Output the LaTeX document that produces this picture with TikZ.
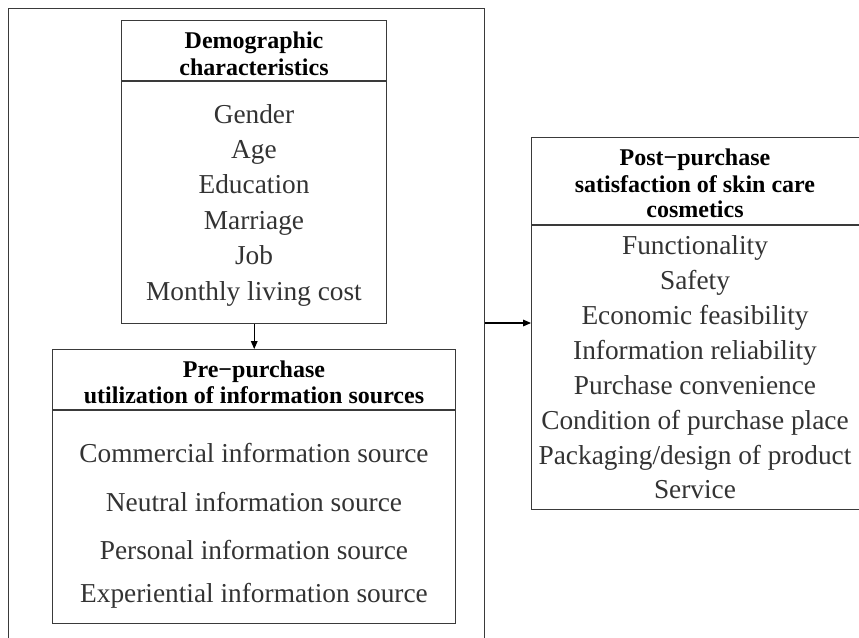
\documentclass[tikz,border=0pt]{standalone}
\usepackage{fontspec}
\setmainfont{Liberation Serif}
\usetikzlibrary{arrows.meta}
\definecolor{ink}{HTML}{3A3A3A}
\definecolor{txt}{HTML}{333333}
\begin{document}
\begin{tikzpicture}[x=0.75pt,y=-0.75pt,
  frame/.style={draw=ink,line width=1.1pt,inner sep=0pt,anchor=north west},
  outerframe/.style={draw=ink,line width=0.9pt,inner sep=0pt,anchor=north west},
  divider/.style={draw=ink,line width=1.1pt},
  head/.style={anchor=base,inner sep=0pt,font=\fontsize{18}{20}\selectfont\bfseries,text=black},
  item/.style={anchor=base,inner sep=0pt,font=\fontsize{20.5}{22}\selectfont,text=txt},
  link/.style={draw=black,line width=0.8pt,-{Triangle[length=6pt,width=5pt]}}]
\clip (0,0) rectangle (859,637);
\fill[white] (0,0) rectangle (859,637);

% enclosing frame around the two left-hand blocks
\node[outerframe,minimum width=475.5*0.75pt,minimum height=660*0.75pt] (outer) at (8,8) {};

% demographic characteristics
\node[frame,minimum width=265*0.75pt,minimum height=303*0.75pt] (demo) at (121,20) {};
\draw[divider] (121,81) -- (386,81);
\node[head] (demoH1) at (254,48) {Demographic};
\node[head] (demoH2) at (254,75) {characteristics};
\node[item] (d1) at (254,123) {Gender};
\node[item] (d2) at (254,158) {Age};
\node[item] (d3) at (254,193.5) {Education};
\node[item] (d4) at (254,229) {Marriage};
\node[item] (d5) at (254,264.5) {Job};
\node[item] (d6) at (254,300) {Monthly living cost};

% pre-purchase information sources
\node[frame,minimum width=403*0.75pt,minimum height=274*0.75pt] (pre) at (52,349) {};
\draw[divider] (52,410) -- (455,410);
\node[head] (preH1) at (254,377) {Pre−purchase};
\node[head] (preH2) at (254,403) {utilization of information sources};
\node[item] (p1) at (254,462) {Commercial information source};
\node[item] (p2) at (254,511) {Neutral information source};
\node[item] (p3) at (254,559) {Personal information source};
\node[item] (p4) at (254,602) {Experiential information source};

% post-purchase satisfaction
\node[frame,minimum width=340*0.75pt,minimum height=372*0.75pt] (post) at (531,137) {};
\draw[divider] (531,225) -- (870,225);
\node[head] (postH1) at (695,165) {Post−purchase};
\node[head] (postH2) at (695,192) {satisfaction of skin care};
\node[head] (postH3) at (695,217) {cosmetics};
\node[item] (s1) at (695,254) {Functionality};
\node[item] (s2) at (695,289) {Safety};
\node[item] (s3) at (695,324) {Economic feasibility};
\node[item] (s4) at (695,359) {Information reliability};
\node[item] (s5) at (695,394.5) {Purchase convenience};
\node[item] (s6) at (695,429.5) {Condition of purchase place};
\node[item] (s7) at (695,464.5) {Packaging/design of product};
\node[item] (s8) at (695,498) {Service};

% connectors
\draw[link] (demo.south) -- (pre.north);
\coordinate (exit) at (outer.north east |- 0,323);
\draw[link] (exit) -- (post.west |- exit);
\end{tikzpicture}
\end{document}
